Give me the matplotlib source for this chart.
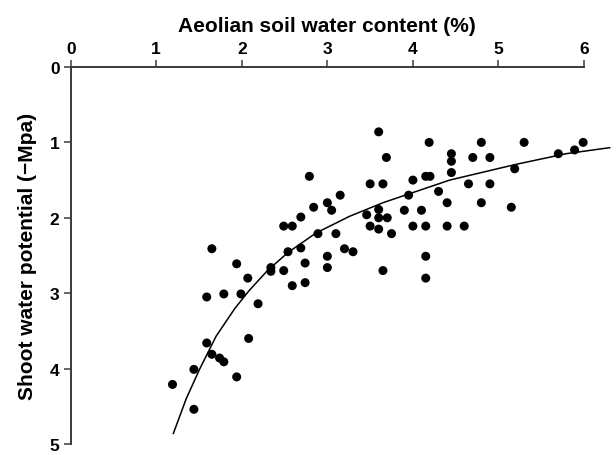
import matplotlib
matplotlib.use("Agg")
import matplotlib.pyplot as plt

plt.rcParams['font.family'] = ['Liberation Sans', 'DejaVu Sans']

# Scatter data: soil water content (%) vs shoot water potential (-MPa)
water_content = [1.19, 1.44, 1.44, 1.59, 1.65, 1.74, 1.79, 1.94, 2.08, 1.65,
                 1.94, 2.07, 1.59, 1.79, 1.99, 2.19, 2.34, 2.34, 2.49, 2.54,
                 2.59, 2.69, 2.74, 2.74, 3.00, 3.00, 3.20, 3.30, 2.89, 3.10,
                 2.49, 2.59, 2.69, 2.84, 3.00, 3.05, 3.15, 2.79, 3.46, 3.60,
                 3.60, 3.70, 3.50, 3.60, 3.75, 3.50, 3.65, 3.60, 3.69, 4.19,
                 4.00, 4.15, 4.20, 3.95, 3.90, 4.10, 4.00, 4.15, 4.40, 4.60,
                 4.15, 4.15, 3.65, 4.30, 4.40, 4.45, 4.45, 4.45, 4.70, 4.90,
                 4.65, 4.90, 4.80, 4.80, 5.15, 5.19, 5.30, 5.70, 5.89, 5.99]
shoot_potential = [4.21, 4.54, 4.01, 3.66, 3.81, 3.86, 3.91, 4.11, 3.60, 2.41,
                   2.61, 2.80, 3.05, 3.01, 3.01, 3.14, 2.66, 2.71, 2.70, 2.45,
                   2.90, 2.40, 2.60, 2.86, 2.51, 2.66, 2.41, 2.45, 2.21, 2.21,
                   2.11, 2.11, 1.99, 1.86, 1.80, 1.90, 1.70, 1.45, 1.96, 1.89,
                   2.00, 2.00, 2.11, 2.15, 2.21, 1.55, 1.55, 0.86, 1.20, 1.00,
                   1.50, 1.45, 1.45, 1.70, 1.90, 1.90, 2.11, 2.11, 2.11, 2.11,
                   2.51, 2.80, 2.70, 1.65, 1.80, 1.15, 1.25, 1.40, 1.20, 1.20,
                   1.55, 1.55, 1.00, 1.80, 1.86, 1.35, 1.00, 1.15, 1.10, 1.00]

# Fitted curve
curve_x = [1.20, 1.35, 1.51, 1.70, 1.92, 2.09, 2.30, 2.54, 2.87, 3.26,
           3.65, 4.04, 4.43, 4.80, 5.21, 5.79, 6.30]
curve_y = [4.86, 4.40, 4.00, 3.57, 3.20, 2.96, 2.70, 2.46, 2.20, 1.98,
           1.80, 1.65, 1.50, 1.40, 1.29, 1.15, 1.07]

x_ticks = [0, 1, 2, 3, 4, 5, 6]
y_ticks = [0, 1, 2, 3, 4, 5]

fig = plt.figure(figsize=(6.16, 4.56), dpi=100)
ax = fig.add_axes([70.7/616, 1 - 445/456, (584 - 70.7)/616, (445 - 68)/456])

ax.plot(curve_x, curve_y, color='black', lw=1.1, clip_on=False, zorder=2)
ax.scatter(water_content, shoot_potential, s=42, color='black',
           edgecolors='none', clip_on=False, zorder=3)

ax.set_xlim(0, 6)
ax.set_ylim(5, 0)
ax.set_xticks(x_ticks)
ax.set_yticks(y_ticks)

ax.xaxis.tick_top()
ax.xaxis.set_label_position('top')
for side in ['bottom', 'right']:
    ax.spines[side].set_visible(False)
for side in ['top', 'left']:
    ax.spines[side].set_color('#3a3a3a')
    ax.spines[side].set_linewidth(1.4)

ax.tick_params(axis='both', direction='out', length=5, width=1.1,
               color='#3a3a3a', labelsize=12.5, pad=3)
for lab in ax.get_xticklabels() + ax.get_yticklabels():
    lab.set_fontweight('bold')

ax.set_xlabel('Aeolian soil water content (%)', fontsize=15,
              fontweight='bold', labelpad=7)
ax.set_ylabel('Shoot water potential (\u2212Mpa)', fontsize=15,
              fontweight='bold', labelpad=9)

fig.savefig('out.png', dpi=100)
